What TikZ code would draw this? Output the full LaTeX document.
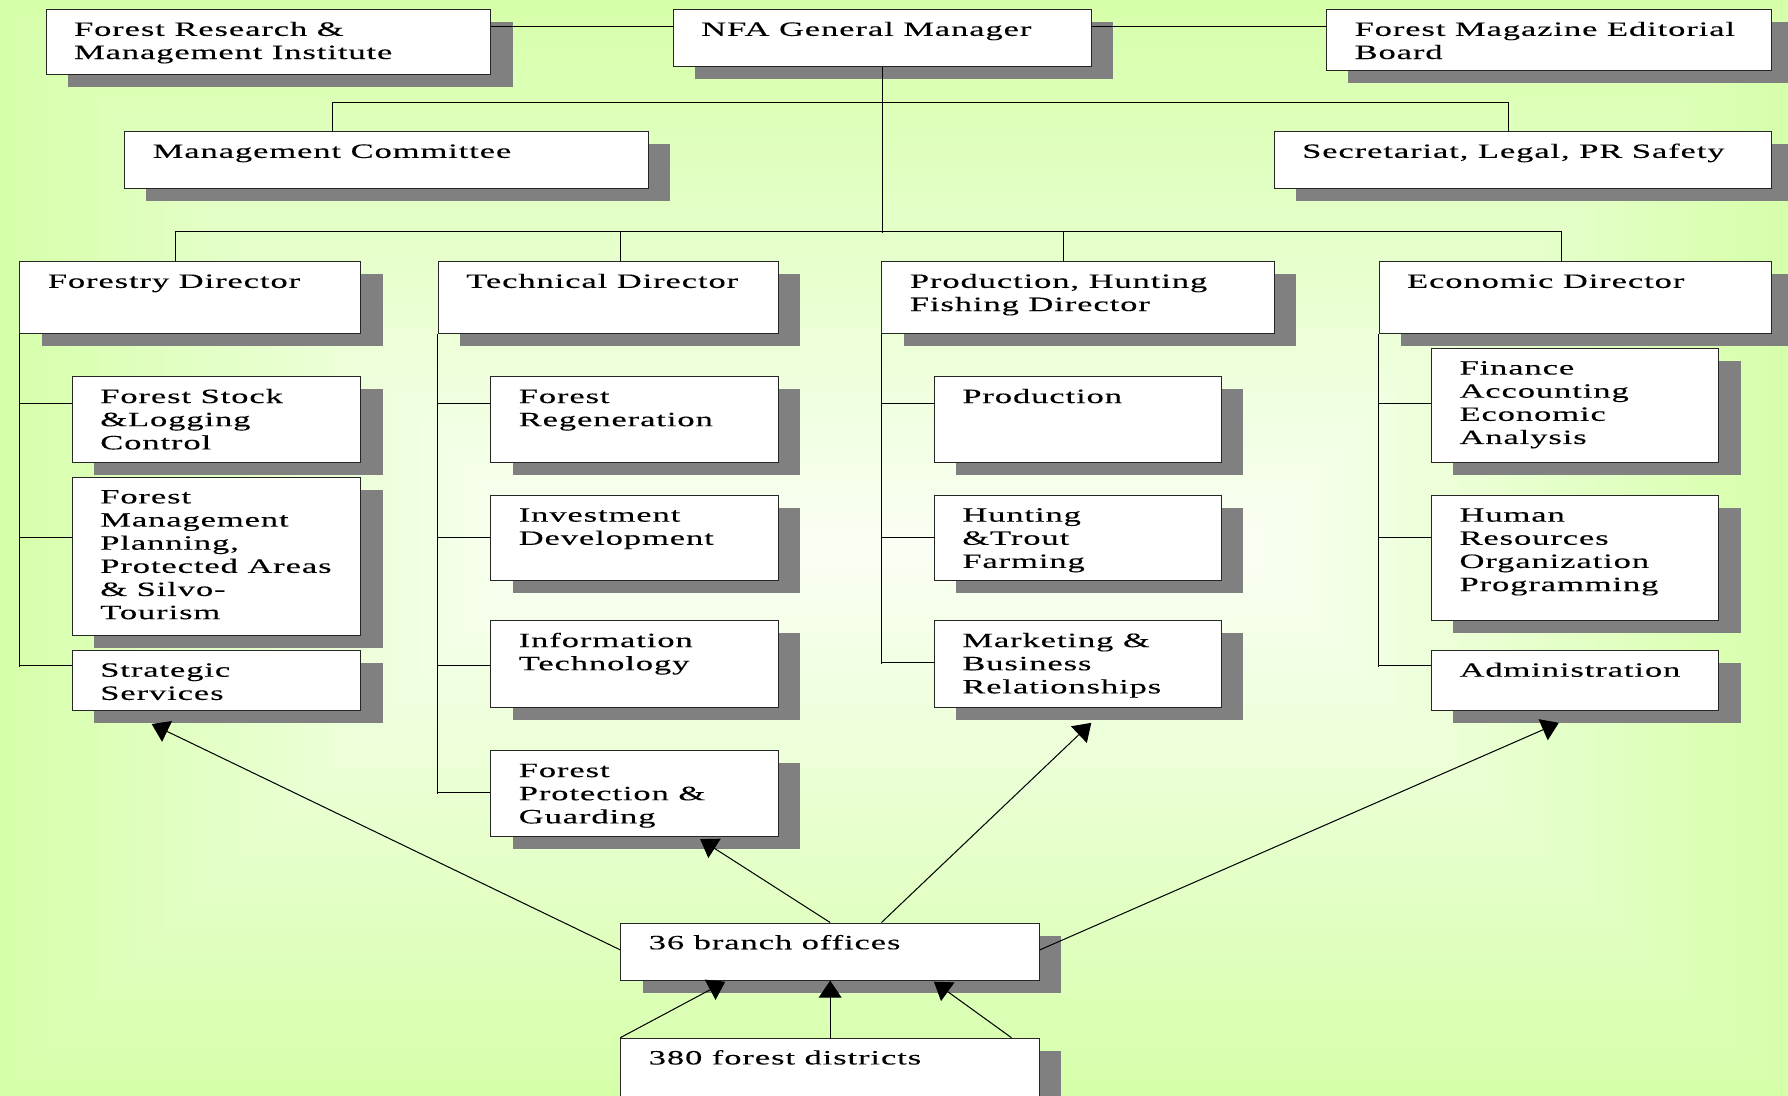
\documentclass[tikz,border=0pt]{standalone}
\usepackage{fontspec}
\setmainfont{Liberation Serif}[FakeStretch=1.7,LetterSpace=4.5,FakeBold=0.2]
\usetikzlibrary{arrows.meta,calc,shadows}
\definecolor{bge}{RGB}{214,255,170}
\definecolor{bgc}{RGB}{250,255,244}
\newcommand\bt[3]{\parbox[t][#2pt][t]{#1pt}{\leftskip=24.5pt\rule{0pt}{23pt}#3}}
\tikzset{
  box/.style={draw=black!85, fill=white, line width=0.9pt, inner sep=0pt, anchor=north west,
    font=\fontsize{17.8pt}{20.3pt}\selectfont,
    drop shadow={shadow xshift=19pt, shadow yshift=-11pt, opacity=1, fill=black!50, draw=none}},
  link/.style={draw=black, line width=0.9pt},
  arr/.style={link, -{Triangle[length=15pt,width=20pt]}}
}
\begin{document}
\begin{tikzpicture}[x=1pt,y=-1pt]
\useasboundingbox (0,0) rectangle (1568,961);
\clip (0,0) rectangle (1568,961);
\foreach \i in {0,...,60} {
  \pgfmathsetmacro\d{\i*8}
  \pgfmathsetmacro\t{\i/60*100}
  \fill[bgc!\t!bge] (\d,\d) rectangle (1568-\d,961-\d);
}
% top row
\node[box] (fr)  at (40,8)    {\bt{390}{57}{Forest Research \&\\Management Institute}};
\node[box] (nfa) at (590,8)   {\bt{367}{50}{NFA General Manager}};
\node[box] (fm)  at (1163,8)  {\bt{390}{53}{Forest Magazine Editorial\\Board}};
\node[box] (mc)  at (109,115) {\bt{459}{50}{Management Committee}};
\node[box] (sec) at (1117,115){\bt{436}{50}{Secretariat, Legal, PR Safety}};
% directors
\node[box] (fd) at (17,229)   {\bt{299}{63}{Forestry Director}};
\node[box] (td) at (384,229)  {\bt{298}{63}{Technical Director}};
\node[box] (pd) at (773,229)  {\bt{344}{63}{Production, Hunting\\Fishing Director}};
\node[box] (ed) at (1209,229) {\bt{344}{63}{Economic Director}};
% forestry
\node[box] (fs)  at (63,330) {\bt{253}{75}{Forest Stock\\\&Logging\\Control}};
\node[box] (fmp) at (63,418) {\bt{253}{139}{Forest\\Management\\Planning,\\Protected Areas\\\& Silvo-\\Tourism}};
\node[box] (ss)  at (63,570) {\bt{253}{53}{Strategic\\Services}};
% technical
\node[box] (fre) at (430,330) {\bt{252}{75}{Forest\\Regeneration}};
\node[box] (inv) at (430,434) {\bt{252}{75}{Investment\\Development}};
\node[box] (it)  at (430,544) {\bt{252}{76}{Information\\Technology}};
\node[box] (fp)  at (430,658) {\bt{252}{75}{Forest\\Protection \&\\Guarding}};
% production
\node[box] (prod) at (819,330) {\bt{252}{75}{Production}};
\node[box] (hunt) at (819,434) {\bt{252}{75}{Hunting\\\&Trout\\Farming}};
\node[box] (mkt)  at (819,544) {\bt{252}{76}{Marketing \&\\Business\\Relationships}};
% economic
\node[box] (fin) at (1255,305) {\bt{252}{100}{Finance\\Accounting\\Economic\\Analysis}};
\node[box] (hr)  at (1255,434) {\bt{252}{110}{Human\\Resources\\Organization\\Programming}};
\node[box] (adm) at (1255,570) {\bt{252}{53}{Administration}};
% bottom
\node[box] (br)   at (544,809) {\bt{367}{50}{36 branch offices}};
\node[box] (dist) at (544,910) {\bt{367}{70}{380 forest districts}};
% connectors top
\draw[link] ($(fr.north east)+(0,15)$) -- ($(nfa.north west)+(0,15)$);
\draw[link] ($(nfa.north east)+(0,15)$) -- ($(fm.north west)+(0,15)$);
\draw[link] (nfa.south) -- ++(0,145);
\draw[link] ($(mc.north west)+(183,0)$) -- ++(0,-25) -- ($(sec.north west)+(206,-25)$) -- ($(sec.north west)+(206,0)$);
\draw[link] ($(fd.north west)+(137,0)$) -- ++(0,-26) -- ($(ed.north west)+(160,-26)$) -- ($(ed.north west)+(160,0)$);
\draw[link] ($(td.north west)+(160,0)$) -- ++(0,-26);
\draw[link] ($(pd.north west)+(160,0)$) -- ++(0,-26);
% columns
\draw[link] (fd.south west) -- ($(fd.south west)+(0,292)$);
\draw[link] ($(fs.north west)+(0,24)$) -- ++(-46,0);
\draw[link] ($(fmp.north west)+(0,53)$) -- ++(-46,0);
\draw[link] ($(ss.north west)+(0,14)$) -- ++(-46,0);
\draw[link] (td.south west) -- ($(td.south west)+(0,403)$);
\draw[link] ($(fre.north west)+(0,24)$) -- ++(-46,0);
\draw[link] ($(inv.north west)+(0,37)$) -- ++(-46,0);
\draw[link] ($(it.north west)+(0,40)$) -- ++(-46,0);
\draw[link] ($(fp.north west)+(0,37)$) -- ++(-46,0);
\draw[link] (pd.south west) -- ($(pd.south west)+(0,289)$);
\draw[link] ($(prod.north west)+(0,24)$) -- ++(-46,0);
\draw[link] ($(hunt.north west)+(0,37)$) -- ++(-46,0);
\draw[link] ($(mkt.north west)+(0,37)$) -- ++(-46,0);
\draw[link] (ed.south west) -- ($(ed.south west)+(0,292)$);
\draw[link] ($(fin.north west)+(0,49)$) -- ++(-46,0);
\draw[link] ($(hr.north west)+(0,37)$) -- ++(-46,0);
\draw[link] ($(adm.north west)+(0,14)$) -- ++(-46,0);
% arrows
\draw[arr] ($(br.north west)+(0,24)$) -- ($(ss.south west)+(70,11)$);
\draw[arr] ($(br.north west)+(184,0)$) -- ($(fp.south west)+(184,2)$);
\draw[arr] ($(br.north west)+(229,0)$) -- ($(mkt.south west)+(138,13)$);
\draw[arr] ($(br.north east)+(0,24)$) -- ($(adm.south west)+(112,10)$);
\draw[arr] (dist.north west) -- ($(br.south west)+(92,1)$);
\draw[arr] ($(dist.north west)+(184,0)$) -- ($(br.south west)+(184,0)$);
\draw[arr] ($(dist.north west)+(343,0)$) -- ($(br.south west)+(275,1)$);
\end{tikzpicture}
\end{document}
